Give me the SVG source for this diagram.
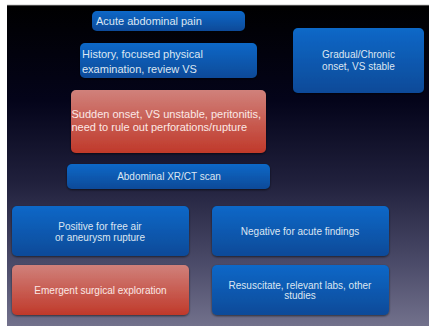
<svg xmlns="http://www.w3.org/2000/svg" width="429" height="326" viewBox="0 0 429 326">
<defs>
<linearGradient id="bg" x1="0" y1="0" x2="0" y2="1">
<stop offset="0" stop-color="#000000"/>
<stop offset="0.3" stop-color="#04041a"/>
<stop offset="0.55" stop-color="#20203c"/>
<stop offset="0.8" stop-color="#4a4a68"/>
<stop offset="1" stop-color="#72718c"/>
</linearGradient>
<linearGradient id="blue" x1="0" y1="0" x2="0" y2="1">
<stop offset="0" stop-color="#0868c8"/>
<stop offset="1" stop-color="#0a4a98"/>
</linearGradient>
<linearGradient id="red" x1="0" y1="0" x2="0" y2="1">
<stop offset="0" stop-color="#d0817b"/>
<stop offset="1" stop-color="#c0392a"/>
</linearGradient>
<filter id="sh" x="-10%" y="-10%" width="120%" height="130%">
<feDropShadow dx="0" dy="1" stdDeviation="1" flood-color="#000" flood-opacity="0.6"/>
</filter>
</defs>
<style>
.b{fill:url(#blue);filter:url(#sh)}
.r{fill:url(#red);filter:url(#sh)}
text{font-family:"Liberation Sans",Arial,sans-serif;fill:#dce6f2}
.rt{fill:#fbe8e6}
.m{text-anchor:middle}
</style>
<rect x="0" y="0" width="429" height="326" fill="#ffffff"/>
<rect x="7" y="5" width="422" height="321" fill="url(#bg)"/>
<line x1="7" y1="5" x2="429" y2="5" stroke="#bbbbbb" stroke-width="0.8"/>
<g id="connectors"/>
<g id="n1">
<rect class="b" x="92" y="11" width="153" height="20" rx="5"/>
<text x="96" y="25" font-size="11">Acute abdominal pain</text>
</g>
<g id="n2">
<rect class="b" x="80" y="43" width="177" height="35" rx="5"/>
<text x="82" y="58" font-size="11">History, focused physical</text>
<text x="82" y="72.5" font-size="11">examination, review VS</text>
</g>
<g id="n3">
<rect class="b" x="293" y="28" width="131" height="65" rx="5"/>
<text class="m" x="358.5" y="58" font-size="10">Gradual/Chronic</text>
<text class="m" x="358.5" y="70" font-size="10">onset, VS stable</text>
</g>
<g id="n4">
<rect class="r" x="71" y="90" width="195" height="63" rx="5"/>
<text class="rt" x="71.5" y="118" font-size="11">Sudden onset, VS unstable, peritonitis,</text>
<text class="rt" x="71.5" y="131" font-size="11">need to rule out perforations/rupture</text>
</g>
<g id="n5">
<rect class="b" x="67" y="164" width="203" height="25" rx="5"/>
<text class="m" x="169" y="179.5" font-size="10">Abdominal XR/CT scan</text>
</g>
<g id="n6">
<rect class="b" x="12" y="206" width="177" height="50" rx="5"/>
<text class="m" x="100" y="230" font-size="10">Positive for free air</text>
<text class="m" x="100" y="241" font-size="10">or aneurysm rupture</text>
</g>
<g id="n7">
<rect class="b" x="212" y="206" width="177" height="50" rx="5"/>
<text class="m" x="300" y="235" font-size="10">Negative for acute findings</text>
</g>
<g id="n8">
<rect class="r" x="12" y="265" width="177" height="50" rx="5"/>
<text class="m rt" x="100.5" y="294" font-size="10">Emergent surgical exploration</text>
</g>
<g id="n9">
<rect class="b" x="212" y="265" width="177" height="50" rx="5"/>
<text class="m" x="300" y="288.5" font-size="10">Resuscitate, relevant labs, other</text>
<text class="m" x="300" y="298.5" font-size="10">studies</text>
</g>
</svg>
